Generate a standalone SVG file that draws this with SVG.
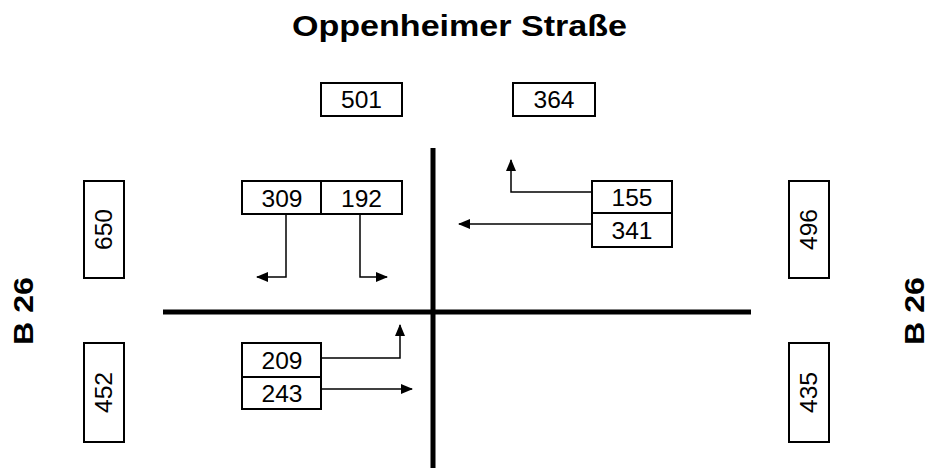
<svg xmlns="http://www.w3.org/2000/svg" width="930" height="471" viewBox="0 0 930 471">
<style>
.box{fill:#fff;stroke:#000;stroke-width:2}
.num{font-family:"Liberation Sans",Arial,sans-serif;font-size:23px;fill:#000;text-anchor:middle}
.road{stroke:#000;stroke-width:5;fill:none}
.flow{stroke:#000;stroke-width:1.5;fill:none;marker-end:url(#ah)}
.lbl{font-family:"Liberation Sans",Arial,sans-serif;font-weight:bold;fill:#000;text-anchor:middle}
</style>
<defs>
<marker id="ah" viewBox="0 0 12 10" refX="11" refY="5" markerWidth="12" markerHeight="10" markerUnits="userSpaceOnUse" orient="auto">
<path d="M0,0 L12,5 L0,10 Z" fill="#000"/>
</marker>
</defs>
<rect width="930" height="471" fill="#fff"/>
<text class="lbl" x="459.5" y="36" font-size="29" textLength="335" lengthAdjust="spacingAndGlyphs">Oppenheimer Straße</text>
<text class="lbl" font-size="28" textLength="68" lengthAdjust="spacingAndGlyphs" transform="translate(33,311) rotate(-90)">B 26</text>
<text class="lbl" font-size="28" textLength="68" lengthAdjust="spacingAndGlyphs" transform="translate(924,311) rotate(-90)">B 26</text>
<g id="roads">
<line class="road" x1="433" y1="148" x2="433" y2="468"/>
<line class="road" x1="163" y1="312" x2="751" y2="312"/>
</g>
<g id="connectors">
<polyline class="flow" points="286,214 286,277 257,277"/>
<polyline class="flow" points="360,214 360,277 387,277"/>
<polyline class="flow" points="592,192 511,192 511,160"/>
<polyline class="flow" points="592,224 459,224"/>
<polyline class="flow" points="321,358 400,358 400,325"/>
<polyline class="flow" points="321,389 412,389"/>
</g>
<g id="n501"><rect class="box" x="321" y="83" width="81" height="33"/><text class="num" x="361.5" y="108" textLength="41" lengthAdjust="spacingAndGlyphs">501</text></g>
<g id="n364"><rect class="box" x="513" y="83" width="82" height="33"/><text class="num" x="554" y="108" textLength="41" lengthAdjust="spacingAndGlyphs">364</text></g>
<g id="n309"><rect class="box" x="242" y="181" width="79" height="33"/><text class="num" x="282" y="207" textLength="41" lengthAdjust="spacingAndGlyphs">309</text></g>
<g id="n192"><rect class="box" x="321" y="181" width="81" height="33"/><text class="num" x="361.5" y="207" textLength="41" lengthAdjust="spacingAndGlyphs">192</text></g>
<g id="n155"><rect class="box" x="592" y="181" width="80" height="32"/><text class="num" x="632" y="206" textLength="41" lengthAdjust="spacingAndGlyphs">155</text></g>
<g id="n341"><rect class="box" x="592" y="213" width="80" height="34"/><text class="num" x="632" y="239" textLength="41" lengthAdjust="spacingAndGlyphs">341</text></g>
<g id="n209"><rect class="box" x="242" y="343" width="79" height="34"/><text class="num" x="282" y="369" textLength="41" lengthAdjust="spacingAndGlyphs">209</text></g>
<g id="n243"><rect class="box" x="242" y="377" width="79" height="32"/><text class="num" x="282" y="402" textLength="41" lengthAdjust="spacingAndGlyphs">243</text></g>
<g id="n650"><rect class="box" x="84" y="181" width="40" height="97"/><text class="num" textLength="41" lengthAdjust="spacingAndGlyphs" transform="translate(112,229.5) rotate(-90)">650</text></g>
<g id="n452"><rect class="box" x="84" y="343" width="40" height="99"/><text class="num" textLength="41" lengthAdjust="spacingAndGlyphs" transform="translate(112,392.5) rotate(-90)">452</text></g>
<g id="n496"><rect class="box" x="789" y="181" width="40" height="97"/><text class="num" textLength="41" lengthAdjust="spacingAndGlyphs" transform="translate(817,229.5) rotate(-90)">496</text></g>
<g id="n435"><rect class="box" x="789" y="343" width="40" height="99"/><text class="num" textLength="41" lengthAdjust="spacingAndGlyphs" transform="translate(817,392.5) rotate(-90)">435</text></g>
</svg>
